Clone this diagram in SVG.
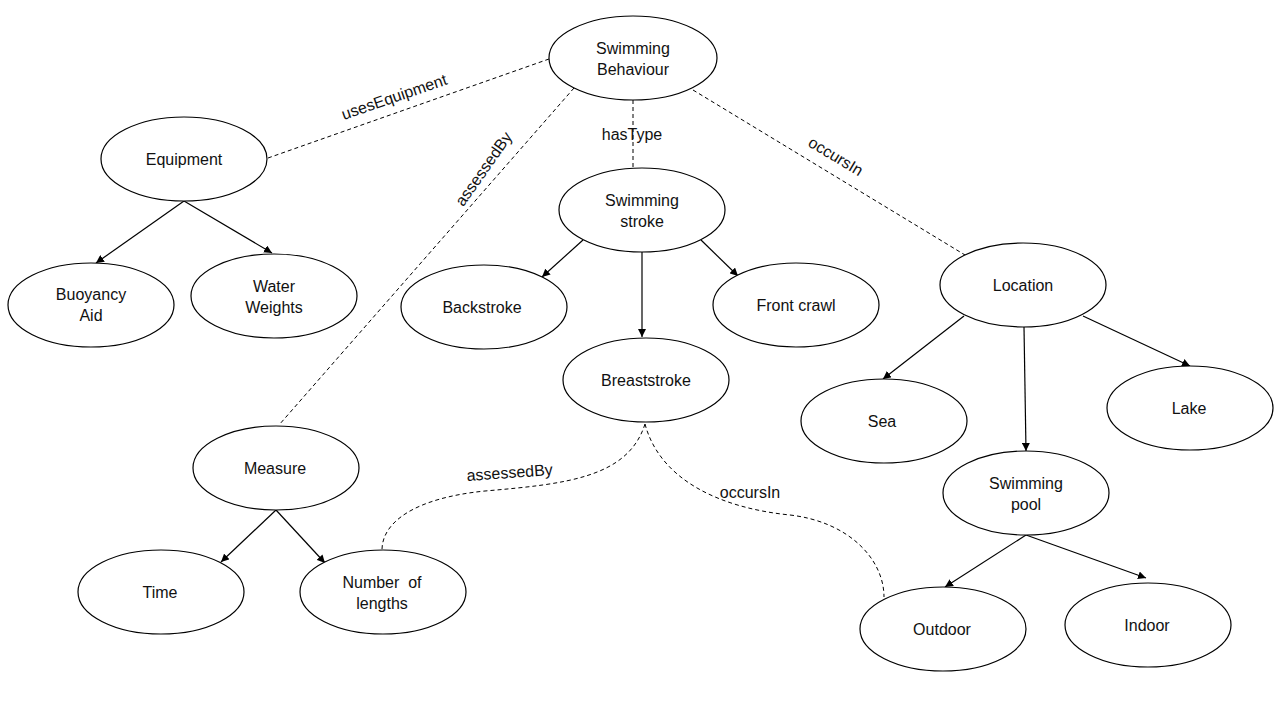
<svg xmlns="http://www.w3.org/2000/svg" width="1280" height="720" viewBox="0 0 1280 720">
<style>
.n{fill:#fff;stroke:#000;stroke-width:1.2}
.t{font-family:"Liberation Sans",Arial,sans-serif;font-size:16px;fill:#111;text-anchor:middle}
.d{fill:none;stroke:#000;stroke-width:1;stroke-dasharray:4 3}
.a{fill:none;stroke:#000;stroke-width:1.2;marker-end:url(#ah)}
</style>
<defs>
<marker id="ah" viewBox="0 0 10 10" refX="10" refY="5" markerWidth="8" markerHeight="8" markerUnits="userSpaceOnUse" orient="auto">
<path d="M0,0 L10,5 L0,10 z" fill="#000"/>
</marker>
</defs>
<rect width="1280" height="720" fill="#fff"/>
<g id="connectors">
<line class="d" x1="268" y1="158" x2="549" y2="59"/>
<line class="d" x1="574" y1="88" x2="279" y2="425"/>
<line class="d" x1="633" y1="100" x2="633" y2="168"/>
<line class="d" x1="693" y1="90" x2="965" y2="255"/>
<path class="d" d="M645,424 C628,478 565,484 485,491 C415,498 382,522 382,550"/>
<path class="d" d="M645,424 C660,480 720,508 790,515 C850,522 884,560 884,597"/>
<line class="a" x1="184" y1="201" x2="96" y2="263"/>
<line class="a" x1="184" y1="201" x2="272" y2="253"/>
<line class="a" x1="583" y1="240" x2="542" y2="277"/>
<line class="a" x1="642" y1="252" x2="642" y2="337"/>
<line class="a" x1="701" y1="240" x2="738" y2="276"/>
<line class="a" x1="964" y1="316" x2="883" y2="379"/>
<line class="a" x1="1024" y1="327" x2="1026" y2="451"/>
<line class="a" x1="1083" y1="316" x2="1190" y2="366"/>
<line class="a" x1="1026" y1="535" x2="945" y2="587"/>
<line class="a" x1="1026" y1="535" x2="1146" y2="578"/>
<line class="a" x1="276" y1="510" x2="221" y2="562"/>
<line class="a" x1="276" y1="510" x2="325" y2="563"/>
<text class="t" transform="translate(396,102) rotate(-19)">usesEquipment</text>
<text class="t" transform="translate(488,172) rotate(-55)">assessedBy</text>
<text class="t" x="632" y="140">hasType</text>
<text class="t" transform="translate(833,161) rotate(31)">occursIn</text>
<text class="t" transform="translate(510,478) rotate(-4)">assessedBy</text>
<text class="t" x="750" y="498">occursIn</text>
</g>
<g id="swimming-behaviour"><ellipse class="n" cx="633" cy="58" rx="84" ry="42"/><text class="t" x="633" y="54">Swimming</text><text class="t" x="633" y="75">Behaviour</text></g>
<g id="equipment"><ellipse class="n" cx="184" cy="159" rx="83" ry="42"/><text class="t" x="184" y="165">Equipment</text></g>
<g id="buoyancy-aid"><ellipse class="n" cx="91" cy="305" rx="83" ry="42"/><text class="t" x="91" y="300">Buoyancy</text><text class="t" x="91" y="321">Aid</text></g>
<g id="water-weights"><ellipse class="n" cx="274" cy="296" rx="83" ry="42"/><text class="t" x="274" y="292">Water</text><text class="t" x="274" y="313">Weights</text></g>
<g id="swimming-stroke"><ellipse class="n" cx="642" cy="210" rx="83" ry="42"/><text class="t" x="642" y="206">Swimming</text><text class="t" x="642" y="227">stroke</text></g>
<g id="backstroke"><ellipse class="n" cx="484" cy="307" rx="83" ry="42"/><text class="t" x="482" y="313">Backstroke</text></g>
<g id="front-crawl"><ellipse class="n" cx="796" cy="305" rx="83" ry="42"/><text class="t" x="796" y="311">Front crawl</text></g>
<g id="breaststroke"><ellipse class="n" cx="646" cy="380" rx="83" ry="42"/><text class="t" x="646" y="386">Breaststroke</text></g>
<g id="location"><ellipse class="n" cx="1023" cy="285" rx="83" ry="42"/><text class="t" x="1023" y="291">Location</text></g>
<g id="sea"><ellipse class="n" cx="884" cy="421" rx="83" ry="42"/><text class="t" x="882" y="427">Sea</text></g>
<g id="lake"><ellipse class="n" cx="1190" cy="408" rx="83" ry="42"/><text class="t" x="1189" y="414">Lake</text></g>
<g id="swimming-pool"><ellipse class="n" cx="1026" cy="493" rx="83" ry="42"/><text class="t" x="1026" y="489">Swimming</text><text class="t" x="1026" y="510">pool</text></g>
<g id="outdoor"><ellipse class="n" cx="943" cy="629" rx="83" ry="42"/><text class="t" x="942" y="635">Outdoor</text></g>
<g id="indoor"><ellipse class="n" cx="1148" cy="625" rx="83" ry="42"/><text class="t" x="1147" y="631">Indoor</text></g>
<g id="measure"><ellipse class="n" cx="276" cy="468" rx="83" ry="42"/><text class="t" x="275" y="474">Measure</text></g>
<g id="time"><ellipse class="n" cx="161" cy="592" rx="83" ry="42"/><text class="t" x="160" y="598">Time</text></g>
<g id="number-of-lengths"><ellipse class="n" cx="383" cy="592" rx="83" ry="42"/><text class="t" x="382" y="588" xml:space="preserve">Number  of</text><text class="t" x="382" y="609">lengths</text></g>
</svg>
